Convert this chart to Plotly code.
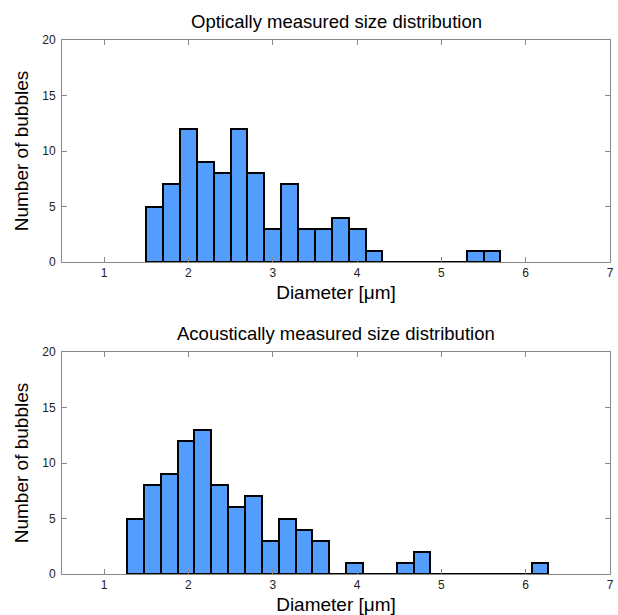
import plotly.graph_objects as go
import numpy as np

bin_width = 0.2
# Optically measured histogram (bins start at 1.5)
opt_start = 1.5
opt_counts = [5, 7, 12, 9, 8, 12, 8, 3, 7, 3, 3, 4, 3, 1, 0, 0, 0, 0, 0, 1, 1]
# Acoustically measured histogram (bins start at ~1.27)
ac_start = 1.27
ac_counts = [5, 8, 9, 12, 13, 8, 6, 7, 3, 5, 4, 3, 0, 1, 0, 0, 1, 2, 0, 0, 0, 0, 0, 0, 1]

titles = ["Optically measured size distribution", "Acoustically measured size distribution"]
x_title = "Diameter [μm]"
y_title = "Number of bubbles"
x_ticks = [1, 2, 3, 4, 5, 6, 7]
y_ticks = [0, 5, 10, 15, 20]

FONT = "Liberation Sans, Arial, sans-serif"
BAR_COLOR = "#539dff"

fig = go.Figure()
H = 615
mt, mb = 40, 41
plot_h = H - mt - mb
domains = [
    [1 - 222 / plot_h, 1.0],
    [0.0, 222 / plot_h],
]

for i, (start, counts) in enumerate([(opt_start, opt_counts), (ac_start, ac_counts)]):
    centers = [start + bin_width * (k + 0.5) for k in range(len(counts))]
    xa = "x" if i == 0 else "x2"
    ya = "y" if i == 0 else "y2"
    edges = [start, start + bin_width * len(counts)]
    fig.add_trace(go.Scatter(x=edges, y=[0, 0], mode="lines",
                             line=dict(color="black", width=2),
                             xaxis=xa, yaxis=ya, showlegend=False, hoverinfo="skip"))
    fig.add_trace(go.Bar(x=centers, y=counts, width=bin_width,
                         marker=dict(color=BAR_COLOR, line=dict(color="black", width=2)),
                         xaxis=xa, yaxis=ya, showlegend=False))

axis_common = dict(showline=True, linecolor="#888888", linewidth=1, mirror="ticks",
                   ticks="inside", ticklen=5, tickcolor="#888888", showgrid=False,
                   zeroline=False, automargin=False,
                   tickfont=dict(family=FONT, size=12, color="#222222"))

for i in range(2):
    sx = "" if i == 0 else "2"
    fig.layout["xaxis" + sx] = dict(axis_common, range=[0.5, 7], tickvals=x_ticks,
                                     anchor="y" + sx, domain=[0, 1],
                                     title=dict(text=x_title, font=dict(family=FONT, size=19, color="black"),
                                                standoff=6))
    fig.layout["yaxis" + sx] = dict(axis_common, range=[0, 20], tickvals=y_ticks,
                                     anchor="x" + sx, domain=domains[i], ticklabelstandoff=3,
                                     title=dict(text=y_title, font=dict(family=FONT, size=19, color="black"),
                                                standoff=8))

annotations = []
for i, t in enumerate(titles):
    top = domains[i][1]
    annotations.append(dict(text=t, x=0.5, xref="paper", y=top, yref="paper",
                            yshift=6, xanchor="center", yanchor="bottom", showarrow=False,
                            font=dict(family=FONT, size=18.5, color="black")))

fig.update_layout(width=618, height=615, margin=dict(l=62, r=8, t=mt, b=mb),
                  paper_bgcolor="white", plot_bgcolor="white", bargap=0,
                  annotations=annotations)

fig.write_html("out.html")
